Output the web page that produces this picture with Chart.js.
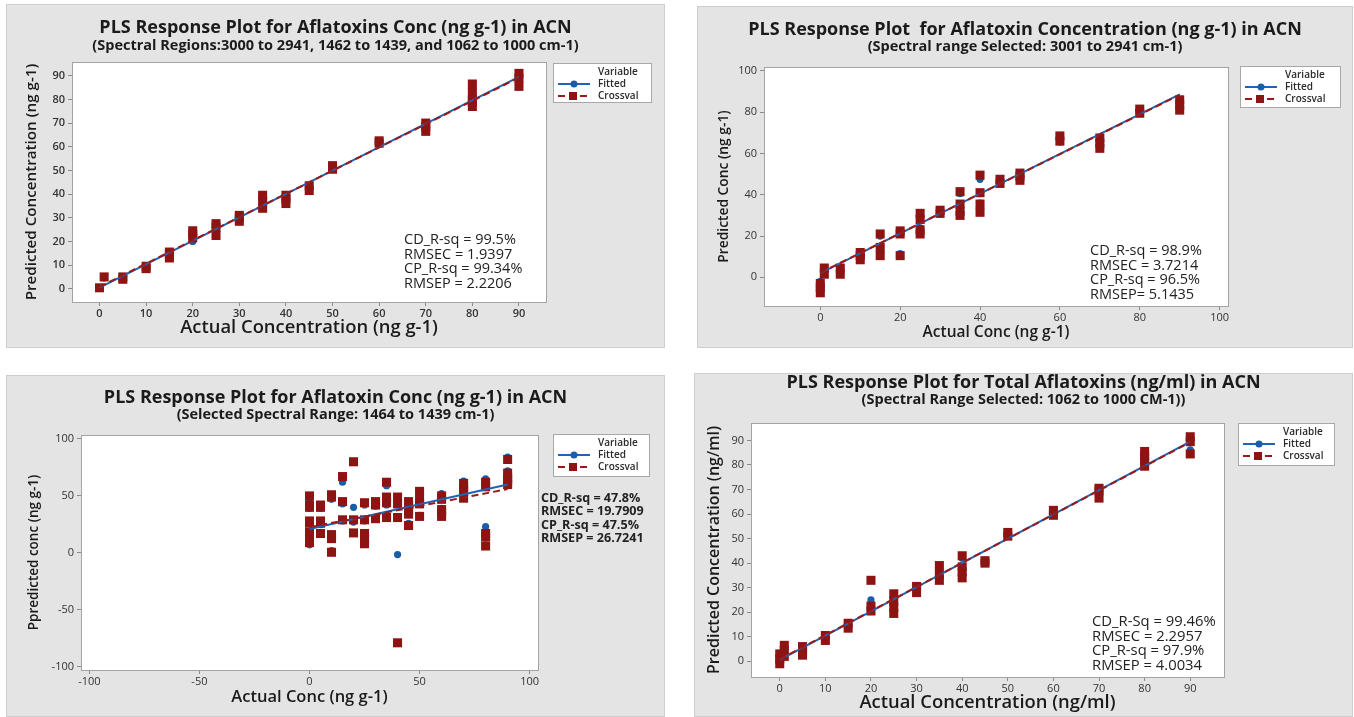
<!DOCTYPE html>
<html>
<head>
<meta charset="utf-8">
<script src="https://cdn.jsdelivr.net/npm/chart.js@4.4.1/dist/chart.umd.min.js"></script>
<style>
  body { margin: 0; background: #fff; width: 1354px; height: 717px; overflow: hidden; position: relative; }
  canvas { position: absolute; }
</style>
</head>
<body>
<canvas id="plotA" width="659" height="344" style="left:6px;top:4px"></canvas>
<canvas id="plotB" width="656" height="342" style="left:697px;top:6px"></canvas>
<canvas id="plotC" width="659" height="342" style="left:6px;top:375px"></canvas>
<canvas id="plotD" width="659" height="344" style="left:694px;top:373px"></canvas>
<script>
const FONT = '"Open Sans", "Noto Sans", sans-serif';
const BLUE = '#1a5ea8';
const RED = '#8e1414';

// --- top left: three spectral regions ---
const aActual   = [0, 1, 5, 5, 10, 10, 15, 15, 15, 20, 20, 20, 25, 25, 25, 30, 30, 30, 35, 35, 35, 40, 40, 40, 45, 45, 50, 50, 60, 60, 70, 70, 70, 80, 80, 80, 80, 80, 90, 90, 90];
const aFitted   = [0.5, 4.5, 4.2, 5, 8.7, 9.5, 13.3, 14.5, 15.3, 20, 22.8, 24, 23, 25.8, 27, 29, 30, 30.8, 34.5, 36.8, 39, 36.5, 38, 39.2, 42, 43.3, 50.5, 51.8, 61.5, 62.3, 67, 68.5, 69.8, 77.5, 79.3, 80, 82.5, 85.5, 86, 89, 90.5];
const aCrossval = [0.4, 5, 4, 5, 8.5, 9.5, 13, 14.5, 15.5, 21.5, 23, 24.5, 22.5, 26, 27.5, 28.5, 30, 31, 34, 37, 39.5, 36, 38, 39.5, 41.5, 43.5, 50.5, 52, 61.5, 62.5, 66.5, 68.5, 70, 77, 79, 80, 83, 86.5, 85.5, 89, 91];
const aLineX = [0, 90];
const aFitLineY = [0.5, 89.5];
const aCvLineY = [0.8, 89.2];
const aTicks = [0, 10, 20, 30, 40, 50, 60, 70, 80, 90];
const aStats = ['CD_R-sq = 99.5%', 'RMSEC = 1.9397', 'CP_R-sq = 99.34%', 'RMSEP = 2.2206'];

// --- top right: 3001 to 2941 cm-1 ---
const bActual   = [0, 0, 0, 1, 1, 5, 5, 10, 10, 10, 15, 15, 15, 20, 20, 20, 25, 25, 25, 25, 30, 30, 35, 35, 35, 35, 40, 40, 40, 40, 45, 45, 50, 50, 50, 60, 60, 70, 70, 70, 80, 80, 90, 90, 90];
const bFitted   = [-2, -4.5, -6.5, 2, 4, 2.5, 4.5, 9, 10.5, 11.5, 20, 14.5, 11.5, 21, 22, 11.5, 29.5, 28, 24, 22, 30.5, 32, 40.5, 35.5, 32.5, 31, 47.5, 40.5, 36, 33, 46, 47.5, 47.5, 49, 50, 65.5, 68, 63.5, 65.5, 67.5, 80, 81.5, 82, 84, 86];
const bCrossval = [-3, -5, -7.5, 1.5, 4.5, 1.5, 4.5, 8.5, 10.5, 12, 21, 14.5, 10.5, 21, 22.5, 10.5, 31, 28, 23, 21, 31, 32.5, 41.5, 35.5, 32, 30, 49.5, 41, 35.5, 31.5, 45.5, 47.5, 47, 49, 50.5, 66, 68.5, 62.5, 65, 67.5, 79.5, 81.5, 81, 83.5, 86];
const bLineX = [0, 90];
const bFitLineY = [2, 88.6];
const bCvLineY = [2.2, 88.4];
const bTicks = [0, 20, 40, 60, 80, 100];
const bStats = ['CD_R-sq = 98.9%', 'RMSEC = 3.7214', 'CP_R-sq = 96.5%', 'RMSEP= 5.1435'];

// --- bottom left: 1464 to 1439 cm-1 ---
const cActual   = [0, 0, 0, 0, 0, 0, 0, 0, 5, 5, 5, 5, 5, 10, 10, 10, 10, 10, 15, 15, 15, 20, 20, 20, 25, 25, 25, 25, 25, 30, 30, 30, 35, 35, 35, 35, 40, 40, 40, 40, 45, 45, 45, 45, 45, 50, 50, 50, 50, 60, 60, 60, 60, 60, 70, 70, 70, 70, 80, 80, 80, 80, 80, 90, 90, 90, 90, 90];
const cFitted   = [47, 39, 41, 28, 26, 17, 15, 7, 40, 39, 27, 25, 18, 48, 47, 14, 12, 2, 62, 43, 28, 40, 29, 27, 42, 28, 16, 13, 10, 44, 41, 30, 59, 47, 42, 32, 47, 43, 31, -1.5, 44, 41, 37, 35, 26, 52, 45, 43, 33, 52, 47, 39, 36, 34, 63, 58, 54, 50, 65, 60, 23, 13, 15, 84, 72, 67, 64, 61];
const cCrossval = [50, 42, 40, 28, 26, 18, 16, 9, 42, 40, 28, 26, 17, 51, 49, 16, 12.5, 0.5, 67, 45, 29, 80, 29, 17.5, 44, 29, 17, 13, 8, 45, 42, 30, 62, 49, 44, 31, 49, 43, 31, -79, 45, 41, 37, 34, 24, 54, 47, 43, 32, 50, 47, 38, 35, 32, 61, 58, 54, 48, 62, 58, 17, 14, 6, 82, 70, 66, 63, 60];
const cLineX = [0, 90];
const cFitLineY = [21, 60];
const cCvLineY = [22.5, 56];
const cTicks = [-100, -50, 0, 50, 100];
const cStats = ['CD_R-sq = 47.8%', 'RMSEC = 19.7909', 'CP_R-sq = 47.5%', 'RMSEP = 26.7241'];

// --- bottom right: 1062 to 1000 cm-1 ---
const dActual   = [0, 0, 0, 1, 1, 1, 5, 5, 5, 10, 10, 15, 15, 20, 20, 20, 25, 25, 25, 25, 30, 30, 35, 35, 35, 40, 40, 40, 40, 45, 45, 50, 50, 60, 60, 70, 70, 70, 80, 80, 80, 80, 90, 90, 90];
const dFitted   = [-0.5, 1, 2.5, 2.5, 4.5, 6, 3, 4.5, 5.5, 9, 10.5, 14, 15.5, 25, 21, 22.5, 20.5, 22.5, 24.5, 27, 28.5, 30, 38, 33.5, 35.5, 42, 35, 37, 38.5, 40.5, 41, 51, 52, 60, 61.5, 67, 69.5, 70, 80, 81.5, 83, 84.5, 86.2, 89.5, 91];
const dCrossval = [-1, 1, 3, 2, 4.5, 6.5, 2.5, 4.5, 6, 8.5, 10.5, 13.5, 15.5, 33, 20.5, 22.5, 19.5, 22, 24.5, 27.5, 28, 30.5, 39, 33, 35.5, 43, 34, 36.5, 38.5, 40, 41, 51, 52.5, 59.5, 61.5, 66.5, 69.5, 70.5, 79.5, 81.5, 83.5, 85.5, 84.5, 89.5, 91.5];
const dLineX = [0, 90];
const dFitLineY = [0.6, 89.5];
const dCvLineY = [0.8, 89.3];
const dTicks = [0, 10, 20, 30, 40, 50, 60, 70, 80, 90];
const dStats = ['CD_R-Sq = 99.46%', 'RMSEC = 2.2957', 'CP_R-sq = 97.9%', 'RMSEP = 4.0034'];

function pts(xs, ys) {
    return xs.map((x, i) => ({ x: x, y: ys[i] }));
}

// gray panel, white plot area, frame, titles, legend and fit statistics
const panelDecor = {
    id: 'panelDecor',
    beforeDraw(chart, args, o) {
        const ctx = chart.ctx;
        const a = chart.chartArea;
        ctx.save();
        ctx.fillStyle = '#e4e4e4';
        ctx.fillRect(0, 0, chart.width, chart.height);
        ctx.strokeStyle = '#cdcdcd';
        ctx.lineWidth = 1;
        ctx.strokeRect(0.5, 0.5, chart.width - 1, chart.height - 1);
        ctx.fillStyle = '#fff';
        ctx.fillRect(a.left, a.top, a.right - a.left, a.bottom - a.top);
        ctx.restore();
    },
    afterDraw(chart, args, o) {
        const ctx = chart.ctx;
        const a = chart.chartArea;
        ctx.save();
        ctx.strokeStyle = '#a3a3a3';
        ctx.lineWidth = 1;
        ctx.strokeRect(Math.round(a.left) + 0.5, Math.round(a.top) + 0.5, Math.round(a.right - a.left), Math.round(a.bottom - a.top));

        ctx.fillStyle = '#1b1b1b';
        ctx.textAlign = 'center';
        ctx.textBaseline = 'middle';
        ctx.font = 'bold ' + o.titleSize + 'px ' + FONT;
        ctx.fillText(o.title, chart.width / 2, o.titleY);
        ctx.font = 'bold ' + o.subSize + 'px ' + FONT;
        ctx.fillText(o.subtitle, chart.width / 2, o.subY);

        ctx.font = '600 ' + o.xTitleSize + 'px ' + FONT;
        ctx.fillText(o.xTitle, (a.left + a.right) / 2, o.xTitleY);
        ctx.save();
        ctx.translate(o.yTitleX, (a.top + a.bottom) / 2);
        ctx.rotate(-Math.PI / 2);
        ctx.font = '600 ' + o.yTitleSize + 'px ' + FONT;
        ctx.fillText(o.yTitle, 0, 0);
        ctx.restore();

        // stats block
        ctx.textAlign = 'left';
        ctx.fillStyle = '#222';
        ctx.font = o.statsFont + ' ' + FONT;
        o.stats.forEach((s, i) => ctx.fillText(s, o.statsX, o.statsY + i * o.statsDy));

        // legend box
        const lg = o.legend;
        const ds = chart.data.datasets;
        ctx.fillStyle = '#fff';
        ctx.fillRect(lg.x, lg.y, lg.w, lg.h);
        ctx.strokeStyle = '#a8a8a8';
        ctx.strokeRect(lg.x + 0.5, lg.y + 0.5, lg.w, lg.h);
        ctx.fillStyle = '#2a2a2a';
        ctx.font = '600 10px ' + FONT;
        ctx.fillText('Variable', lg.x + 45, lg.y + 9);
        [[ds[2], ds[0]], [ds[3], ds[1]]].forEach((pair, i) => {
            const line = pair[0], pt = pair[1];
            const y = lg.y + 21 + i * 12;
            ctx.strokeStyle = line.borderColor;
            ctx.lineWidth = 2;
            ctx.setLineDash(line.borderDash || []);
            ctx.beginPath();
            ctx.moveTo(lg.x + 5, y);
            ctx.lineTo(lg.x + 37, y);
            ctx.stroke();
            ctx.setLineDash([]);
            ctx.fillStyle = pt.backgroundColor;
            if (pt.pointStyle === 'rect') {
                ctx.fillRect(lg.x + 16, y - 4, 8, 8);
            } else {
                ctx.beginPath();
                ctx.arc(lg.x + 21, y, 3.5, 0, Math.PI * 2);
                ctx.fill();
            }
            ctx.fillStyle = '#2a2a2a';
            ctx.fillText(pt.label, lg.x + 45, y);
        });
        ctx.restore();
    }
};

function makePanel(id, p) {
    const tickFont = { family: FONT, size: 11, weight: p.tickWeight || 'normal' };
    return new Chart(document.getElementById(id), {
        type: 'scatter',
        data: {
            datasets: [
                { label: 'Fitted', data: pts(p.actual, p.fitted), pointStyle: 'circle', pointRadius: 3.6, backgroundColor: BLUE, borderWidth: 0, order: 4 },
                { label: 'Crossval', data: pts(p.actual, p.crossval), pointStyle: 'rect', pointRadius: 6.4, backgroundColor: RED, borderWidth: 0, order: 3 },
                { label: 'Fitted line', data: pts(p.lineX, p.fitLine), showLine: true, pointRadius: 0, borderColor: '#1f64b4', borderWidth: 2, order: 2 },
                { label: 'Crossval line', data: pts(p.lineX, p.cvLine), showLine: true, pointRadius: 0, borderColor: '#9a1a1a', borderWidth: 2, borderDash: [7, 4], order: 1 }
            ]
        },
        options: {
            responsive: false,
            animation: false,
            devicePixelRatio: 1,
            layout: { padding: { left: 0, top: p.pad.top, right: p.pad.right, bottom: 0 } },
            plugins: {
                legend: { display: false },
                tooltip: { enabled: false },
                panelDecor: p.decor
            },
            scales: {
                x: {
                    type: 'linear', min: p.xRange[0], max: p.xRange[1],
                    afterBuildTicks: s => { s.ticks = p.xTicks.map(v => ({ value: v })); },
                    afterFit: s => { s.height = p.pad.bottom; },
                    grid: { drawOnChartArea: false, drawTicks: true, tickLength: 4, color: '#8a8a8a' },
                    border: { color: '#a3a3a3' },
                    ticks: { font: tickFont, color: '#333', padding: 1, maxRotation: 0, autoSkip: false }
                },
                y: {
                    type: 'linear', min: p.yRange[0], max: p.yRange[1],
                    afterBuildTicks: s => { s.ticks = p.yTicks.map(v => ({ value: v })); },
                    afterFit: s => { s.width = p.pad.left; },
                    grid: { drawOnChartArea: false, drawTicks: true, tickLength: 4, color: '#8a8a8a' },
                    border: { color: '#a3a3a3' },
                    ticks: { font: tickFont, color: '#333', padding: 3, autoSkip: false }
                }
            }
        },
        plugins: [panelDecor]
    });
}

makePanel('plotA', {
    actual: aActual, fitted: aFitted, crossval: aCrossval,
    lineX: aLineX, fitLine: aFitLineY, cvLine: aCvLineY,
    xTicks: aTicks, yTicks: aTicks, xRange: [-5.9, 95.8], yRange: [-5.6, 95.8],
    pad: { left: 66, top: 58, right: 119, bottom: 46 }, tickWeight: '600',
    decor: {
        title: 'PLS Response Plot for Aflatoxins Conc (ng g-1) in ACN', titleSize: 18, titleY: 24,
        subtitle: '(Spectral Regions:3000 to 2941, 1462 to 1439, and 1062 to 1000 cm-1)', subSize: 14.5, subY: 42,
        xTitle: 'Actual Concentration (ng g-1)', xTitleSize: 18.4, xTitleY: 324,
        yTitle: 'Predicted Concentration (ng g-1)', yTitleSize: 15.2, yTitleX: 26,
        stats: aStats, statsFont: '14.5px', statsX: 398, statsY: 236, statsDy: 14.6,
        legend: { x: 547, y: 59, w: 98, h: 39 }
    }
});

makePanel('plotB', {
    actual: bActual, fitted: bFitted, crossval: bCrossval,
    lineX: bLineX, fitLine: bFitLineY, cvLine: bCvLineY,
    xTicks: bTicks, yTicks: bTicks, xRange: [-14.1, 102.1], yRange: [-13.9, 101.9],
    pad: { left: 67, top: 61, right: 125, bottom: 42 },
    decor: {
        title: 'PLS Response Plot  for Aflatoxin Concentration (ng g-1) in ACN', titleSize: 18, titleY: 24,
        subtitle: '(Spectral range Selected: 3001 to 2941 cm-1)', subSize: 14.5, subY: 41,
        xTitle: 'Actual Conc (ng g-1)', xTitleSize: 15.5, xTitleY: 327,
        yTitle: 'Predicted Conc (ng g-1)', yTitleSize: 13.8, yTitleX: 27,
        stats: bStats, statsFont: '14.5px', statsX: 393, statsY: 245, statsDy: 14.6,
        legend: { x: 543, y: 60, w: 100, h: 41 }
    }
});

makePanel('plotC', {
    actual: cActual, fitted: cFitted, crossval: cCrossval,
    lineX: cLineX, fitLine: cFitLineY, cvLine: cCvLineY,
    xTicks: cTicks, yTicks: cTicks, xRange: [-103.8, 103.8], yRange: [-102.9, 103.5],
    pad: { left: 75, top: 60, right: 127, bottom: 47 },
    decor: {
        title: 'PLS Response Plot for Aflatoxin Conc (ng g-1) in ACN', titleSize: 18, titleY: 23,
        subtitle: '(Selected Spectral Range: 1464 to 1439 cm-1)', subSize: 14.5, subY: 40,
        xTitle: 'Actual Conc (ng g-1)', xTitleSize: 16.5, xTitleY: 322,
        yTitle: 'Ppredicted conc (ng g-1)', yTitleSize: 13.5, yTitleX: 28,
        stats: cStats, statsFont: 'bold 12.6px', statsX: 535, statsY: 123, statsDy: 13.6,
        legend: { x: 547, y: 59, w: 96, h: 42 }
    }
});

makePanel('plotD', {
    actual: dActual, fitted: dFitted, crossval: dCrossval,
    lineX: dLineX, fitLine: dFitLineY, cvLine: dCvLineY,
    xTicks: dTicks, yTicks: dTicks, xRange: [-6.3, 97.4], yRange: [-6.4, 97.1],
    pad: { left: 57, top: 50, right: 129, bottom: 40 },
    decor: {
        title: 'PLS Response Plot for Total Aflatoxins (ng/ml) in ACN', titleSize: 18, titleY: 10,
        subtitle: '(Spectral Range Selected: 1062 to 1000 CM-1))', subSize: 14.5, subY: 27,
        xTitle: 'Actual Concentration (ng/ml)', xTitleSize: 18.4, xTitleY: 330,
        yTitle: 'Predicted Concentration (ng/ml)', yTitleSize: 16, yTitleX: 20,
        stats: dStats, statsFont: '14.8px', statsX: 398, statsY: 249, statsDy: 14.5,
        legend: { x: 544, y: 50, w: 96, h: 42 }
    }
});
</script>
</body>
</html>
